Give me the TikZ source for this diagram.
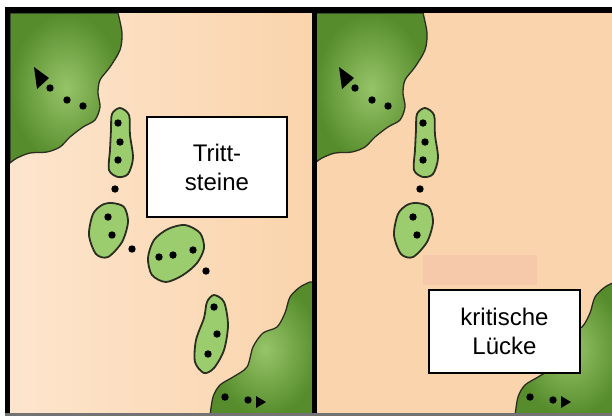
\documentclass[tikz,border=0pt]{standalone}
\usepackage{fontspec}
\setmainfont{Liberation Sans}
\usepackage{tikz}
\definecolor{sandlight}{RGB}{253,229,205}
\definecolor{sand}{RGB}{250,212,172}
\definecolor{sandpink}{RGB}{246,201,170}
\definecolor{landdark}{RGB}{86,140,44}
\definecolor{landlight}{RGB}{150,196,104}
\definecolor{islandgreen}{RGB}{155,205,110}
\definecolor{rim}{RGB}{42,46,32}

\begin{document}
\begin{tikzpicture}[x=1pt, y=-1pt,
        land/.style = {draw=rim, line width=1.3pt, inner color=landlight, outer color=landdark},
        island/.style = {draw=rim, line width=1.8pt, fill=islandgreen},
        dot/.style = {fill=black},
        boxnode/.style = {draw, rectangle, fill=white, line width=1.2pt, align=center, inner sep=0pt, font=\fontsize{24}{29}\selectfont}]
        \useasboundingbox (0,0) rectangle (612,416);
        \shade[left color=sandlight, right color=sand] (10,13) rectangle (312,413);
        \fill[sand] (317,13) rectangle (612,413);
        \foreach \dx/\xa/\xb in {0/10/312, 305/317/612} {
            \begin{scope}
                \clip (\xa,13) rectangle (\xb,413);
                \begin{scope}[xshift=\dx]
                    \draw[land] (10,163) -- (10,13) -- plot[smooth] coordinates {(118,13) (122,33) (120,50) (110,67) (100,80) (98,93) (100,107) (95,120) (83,127) (70,137) (60,147) (47,152) (30,153) (17,158) (10,163)} -- cycle;
                    \fill (34,67) -- (37,89) -- (49,78) -- cycle;
                    \foreach \p in {(50,88), (67,100), (83,106)}
                        \fill[dot] \p circle (3.7pt);
                    \draw[island] plot[smooth cycle] coordinates {(120,108) (129,115) (130,135) (133,158) (128,174) (118,177) (109,170) (110,150) (111,130) (112,114)};
                    \foreach \p in {(118,123), (120,142), (118,160), (115,189)}
                        \fill[dot] \p circle (3.7pt);
                    \draw[island] plot[smooth cycle] coordinates {(112,203) (124,207) (128,222) (122,242) (108,257) (96,254) (89,235) (93,214) (102,205)};
                    \foreach \p in {(108,217), (112,235)}
                        \fill[dot] \p circle (3.7pt);
                    \draw[land] (320,282) -- plot[smooth] coordinates {(310,282) (300,287) (290,297) (285,313) (277,327) (263,333) (253,347) (247,367) (233,377) (220,385) (213,397) (210,416)} -- (320,416) -- cycle;
                    \foreach \p in {(225,397), (248,400)}
                        \fill[dot] \p circle (3.7pt);
                    \fill (256,396) -- (256,408) -- (266,402) -- cycle;
                \end{scope}
            \end{scope}
        }
        \draw[island] plot[smooth cycle] coordinates {(168,229) (185,225) (200,233) (204,248) (197,263) (183,275) (166,282) (152,275) (148,258) (154,240)};
        \draw[island] plot[smooth cycle] coordinates {(214,295) (224,302) (228,325) (224,350) (214,368) (204,373) (195,362) (196,340) (204,318) (207,302)};
        \foreach \p in {(132,249), (159,257), (173,255), (193,250), (206,271), (214,307), (217,334), (208,354)}
            \fill[dot] \p circle (3.7pt);
        \fill[sandpink] (423,255) rectangle (537,285);
        \node[boxnode, minimum width=140, minimum height=100] (T) at (217,167) {Tritt-\\steine};
        \node[boxnode, minimum width=151, minimum height=83] (L) at (504.5,331.5) {kritische\\Lücke};
        % frame
        \fill[black] (5,7) rectangle (612,13);
        \fill[black] (5,7) rectangle (10,413);
        \fill[black] (312,13) rectangle (317,413);
        \fill[black!55] (5,413) rectangle (612,416);
    \end{tikzpicture}
\end{document}
